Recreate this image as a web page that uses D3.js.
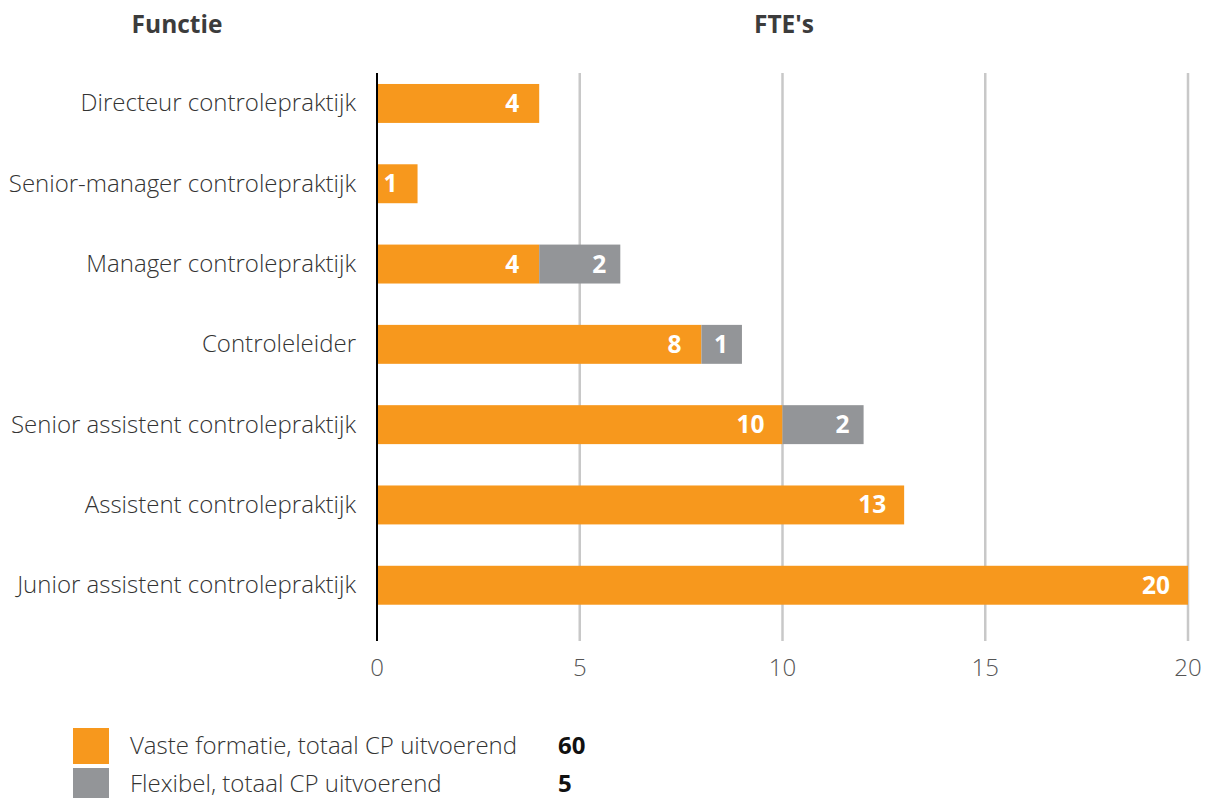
<!DOCTYPE html>
<html><head><meta charset="utf-8">
<script src="https://cdn.jsdelivr.net/npm/d3@7"></script>
<style>body{margin:0;background:#fff;} text{font-family:"Open Sans",sans-serif;}</style>
</head><body><svg id="c" width="1208" height="798"></svg>
<script>
const categories = ["Directeur controlepraktijk","Senior-manager controlepraktijk","Manager controlepraktijk","Controleleider","Senior assistent controlepraktijk","Assistent controlepraktijk","Junior assistent controlepraktijk"];
const vast = [4,1,4,8,10,13,20];
const flex = [0,0,2,1,2,0,0];
const xTicks = [0,5,10,15,20];
const legendLabels = ["Vaste formatie, totaal CP uitvoerend","Flexibel, totaal CP uitvoerend"];
const legendTotals = [60,5];
const colors = ["#F7981D","#939598"];

const svg = d3.select("#c");
const x = d3.scaleLinear().domain([0,20]).range([377,1188]);
const y = d3.scaleBand().domain(categories).range([63.3,625.4]).paddingInner(0.515).paddingOuter(0.2575);

svg.append("g").selectAll("line").data(xTicks.filter(d=>d>0)).join("line")
  .attr("x1",d=>x(d)).attr("x2",d=>x(d)).attr("y1",73).attr("y2",641)
  .attr("stroke","#c8c8c8").attr("stroke-width",2.5);

svg.append("g").selectAll("text").data(xTicks).join("text")
  .attr("x",d=>x(d)).attr("y",676).attr("text-anchor","middle")
  .attr("font-size",24).attr("font-weight",300).attr("fill","#555").text(d=>d);

const rows = categories.map((c,i)=>({c, v:vast[i], f:flex[i]}));
const g = svg.append("g");
g.selectAll("rect.v").data(rows).join("rect").attr("class","v")
  .attr("x",x(0)).attr("y",d=>y(d.c)).attr("width",d=>x(d.v)-x(0)).attr("height",y.bandwidth())
  .attr("fill",colors[0]);
g.selectAll("rect.f").data(rows.filter(d=>d.f>0)).join("rect").attr("class","f")
  .attr("x",d=>x(d.v)).attr("y",d=>y(d.c)).attr("width",d=>x(d.v+d.f)-x(d.v)).attr("height",y.bandwidth())
  .attr("fill",colors[1]);
g.selectAll("text.v").data(rows).join("text").attr("class","v")
  .attr("x",d=>x(d.v)-(d.v>=10?32:27)).attr("y",d=>y(d.c)+y.bandwidth()/2+8.5).attr("text-anchor","middle")
  .attr("font-size",24.5).attr("font-weight",700).attr("fill","#fff").text(d=>d.v);
g.selectAll("text.f").data(rows.filter(d=>d.f>0)).join("text").attr("class","f")
  .attr("x",d=>x(d.v+d.f)-21).attr("y",d=>y(d.c)+y.bandwidth()/2+8.5).attr("text-anchor","middle")
  .attr("font-size",24.5).attr("font-weight",700).attr("fill","#fff").text(d=>d.f);

svg.append("line").attr("x1",377).attr("x2",377).attr("y1",73).attr("y2",641)
  .attr("stroke","#000").attr("stroke-width",2);

svg.append("g").selectAll("text").data(categories).join("text")
  .attr("x",356).attr("y",d=>y(d)+y.bandwidth()/2+8).attr("text-anchor","end")
  .attr("font-size",24).attr("font-weight",300).attr("fill","#333").text(d=>d);

svg.append("text").attr("x",177).attr("y",33).attr("text-anchor","middle")
  .attr("font-size",24.5).attr("font-weight",700).attr("fill","#3c3c3c").text("Functie");
svg.append("text").attr("x",784).attr("y",33).attr("text-anchor","middle")
  .attr("font-size",24.5).attr("font-weight",700).attr("fill","#3c3c3c").text("FTE's");

const lg = svg.append("g").selectAll("g").data(legendLabels).join("g")
  .attr("transform",(d,i)=>`translate(0,${728+i*40})`);
lg.append("rect").attr("x",73).attr("y",0).attr("width",36).attr("height",36).attr("fill",(d,i)=>colors[i]);
lg.append("text").attr("x",130).attr("y",(d,i)=>i?24:26).attr("font-size",24).attr("font-weight",300).attr("fill","#333").text(d=>d);
lg.append("text").attr("x",558).attr("y",(d,i)=>i?24:26).attr("font-size",24).attr("font-weight",700).attr("fill","#111").text((d,i)=>legendTotals[i]);
</script></body></html>
